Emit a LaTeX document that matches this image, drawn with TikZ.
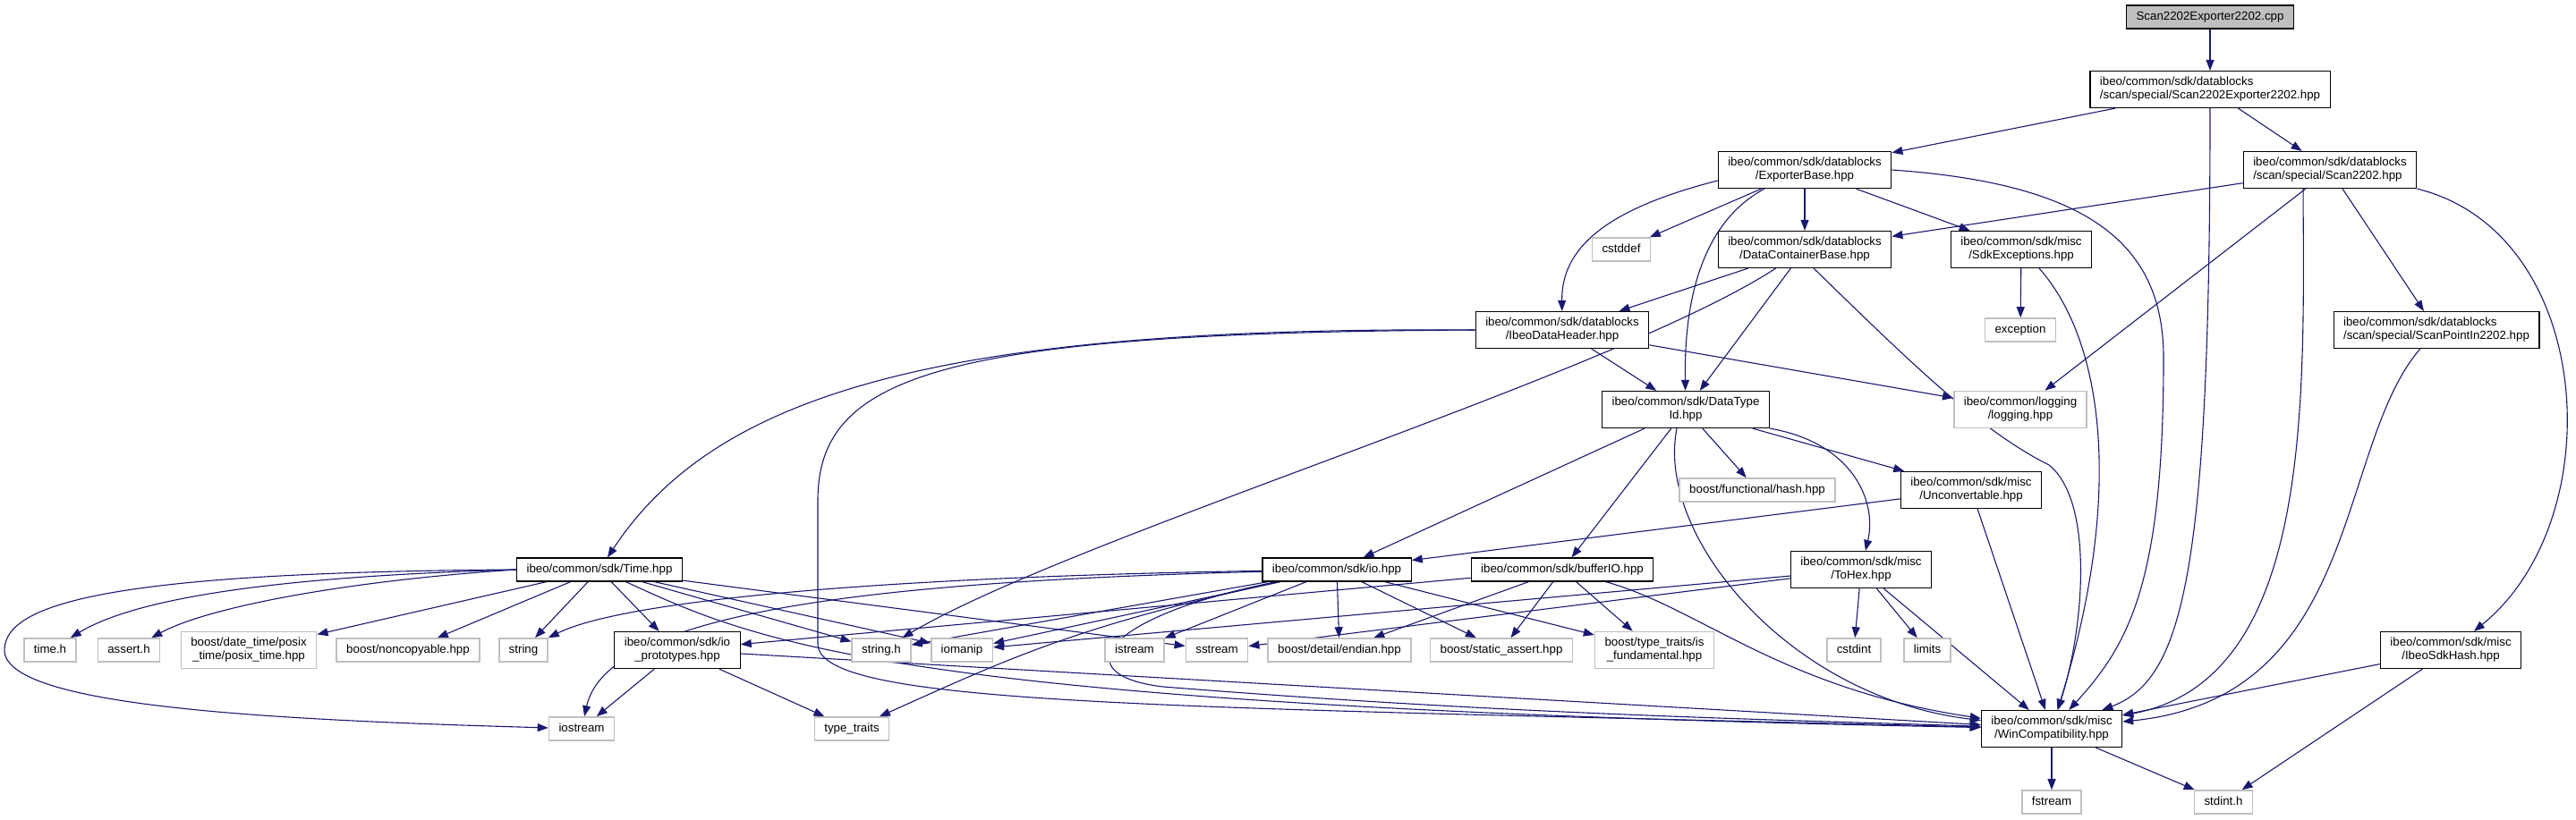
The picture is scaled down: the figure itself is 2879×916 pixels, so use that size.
\documentclass[tikz,border=0pt]{standalone}
\usepackage{fontspec}
\setmainfont{Liberation Sans}
\usetikzlibrary{arrows.meta,backgrounds}

\definecolor{edgeblue}{HTML}{191970}
\definecolor{extgray}{HTML}{BFBFBF}
\newcommand\dotfont{\fontsize{13.3}{15}\selectfont}

\tikzset{% doxygen include graph
  hdr/.style ={draw=black, line width=1.2pt, fill=white, inner xsep=11pt, inner ysep=0pt, font=\dotfont},
  ext/.style ={hdr, draw=extgray, line width=1.6pt},
  root/.style={hdr, fill=extgray},
  one/.style ={minimum height=26pt, text height=9.6pt, text depth=2.8pt},
  two/.style ={minimum height=41pt, align=center},
  twol/.style={minimum height=41pt, align=left},
  dep/.style ={draw=edgeblue, line width=1.1pt, -{Triangle[length=12pt,width=9pt]}},
}

\begin{document}
\begin{tikzpicture}[x=1pt, y=-1pt]
  \useasboundingbox (0, 0) rectangle (2879, 916);
  \node[root, one] (cpp) at (2470, 19) {Scan2202Exporter2202.cpp};
  \node[hdr, twol] (sx) at (2470, 100) {ibeo/common/sdk/datablocks\\/scan/special/Scan2202Exporter2202.hpp};
  \node[hdr, two] (eb) at (2017, 190) {ibeo/common/sdk/datablocks\\/ExporterBase.hpp};
  \node[hdr, twol] (sc) at (2604, 190) {ibeo/common/sdk/datablocks\\/scan/special/Scan2202.hpp};
  \node[ext, one] (cstddef) at (1812, 279) {cstddef};
  \node[hdr, two] (dcb) at (2017, 279) {ibeo/common/sdk/datablocks\\/DataContainerBase.hpp};
  \node[hdr, two] (sdkex) at (2259, 279) {ibeo/common/sdk/misc\\/SdkExceptions.hpp};
  \node[hdr, two] (idh) at (1746, 369) {ibeo/common/sdk/datablocks\\/IbeoDataHeader.hpp};
  \node[ext, one] (exc) at (2258, 369) {exception};
  \node[hdr, twol] (spi) at (2723, 369) {ibeo/common/sdk/datablocks\\/scan/special/ScanPointIn2202.hpp};
  \node[hdr, two] (dti) at (1884, 458) {ibeo/common/sdk/DataType\\Id.hpp};
  \node[ext, two] (logg) at (2258, 458) {ibeo/common/logging\\/logging.hpp};
  \node[ext, one] (hash) at (1964, 548) {boost/functional/hash.hpp};
  \node[hdr, two] (unconv) at (2203, 548) {ibeo/common/sdk/misc\\/Unconvertable.hpp};
  \node[hdr, one] (time) at (670, 637) {ibeo/common/sdk/Time.hpp};
  \node[hdr, one] (io) at (1494, 637) {ibeo/common/sdk/io.hpp};
  \node[hdr, one] (bufio) at (1746, 637) {ibeo/common/sdk/bufferIO.hpp};
  \node[hdr, two] (tohex) at (2080, 637) {ibeo/common/sdk/misc\\/ToHex.hpp};
  \node[ext, one] (timeh) at (56, 727) {time.h};
  \node[ext, one] (asserth) at (144, 727) {assert.h};
  \node[ext, two] (posix) at (278, 727) {boost/date\_time/posix\\\_time/posix\_time.hpp};
  \node[ext, one] (noncopy) at (456, 727) {boost/noncopyable.hpp};
  \node[ext, one] (str) at (585, 727) {string};
  \node[hdr, two] (iop) at (757, 727) {ibeo/common/sdk/io\\\_prototypes.hpp};
  \node[ext, one] (strh) at (985, 727) {string.h};
  \node[ext, one] (iomanip) at (1075, 727) {iomanip};
  \node[ext, one] (istream) at (1268, 727) {istream};
  \node[ext, one] (sstream) at (1360, 727) {sstream};
  \node[ext, one] (endian) at (1497, 727) {boost/detail/endian.hpp};
  \node[ext, one] (sassert) at (1678, 727) {boost/static\_assert.hpp};
  \node[ext, two] (isfund) at (1849, 727) {boost/type\_traits/is\\\_fundamental.hpp};
  \node[ext, one] (cstdint) at (2072, 727) {cstdint};
  \node[ext, one] (limits) at (2154, 727) {limits};
  \node[hdr, two] (sdkhash) at (2739, 727) {ibeo/common/sdk/misc\\/IbeoSdkHash.hpp};
  \node[ext, one] (iostream) at (650, 815) {iostream};
  \node[ext, one] (ttraits) at (952, 815) {type\_traits};
  \node[hdr, two] (win) at (2293, 815) {ibeo/common/sdk/misc\\/WinCompatibility.hpp};
  \node[ext, one] (fstream) at (2293, 897) {fstream};
  \node[ext, one] (stdinth) at (2485, 897) {stdint.h};

  \begin{scope}[on background layer]
  \draw[dep] (cpp) -- (sx);
  \draw[dep] (sx) -- (eb);
  \draw[dep] (sx) -- (sc);
  \draw[dep] (sx.south) .. controls (2470, 640) and (2440, 760) .. (win);
  % ExporterBase
  \draw[dep] (eb) -- (cstddef);
  \draw[dep] ([yshift=-12pt]eb.west) .. controls (1790, 235) and (1745, 280) .. (idh);
  \draw[dep] ([xshift=-45pt]eb.south) .. controls (1900, 250) and (1882, 340) .. (dti);
  \draw[dep] (eb) -- (dcb);
  \draw[dep] (eb) -- (sdkex);
  \draw[dep] (eb.east) .. controls (2330, 205) and (2418, 270) .. (2418, 400)
    .. controls (2418, 650) and (2380, 720) .. (win);
  % Scan2202
  \draw[dep] (sc) -- (dcb);
  \draw[dep] (sc) -- (logg);
  \draw[dep] ([xshift=-30pt]sc.south) .. controls (2575, 450) and (2585, 760) .. (win);
  \draw[dep] (sc) -- (spi);
  \draw[dep] (sc.south east) .. controls (2900, 260) and (2920, 580) .. (sdkhash);
  % DataContainerBase
  \draw[dep] (dcb) -- (idh);
  \draw[dep] (dcb) -- (dti);
  \draw[dep] (dcb) .. controls (1800, 420) and (1200, 600) .. (strh);
  \draw[dep] ([xshift=10pt]dcb.south) .. controls (2130, 400) and (2210, 480) .. (2290, 520)
    .. controls (2340, 560) and (2330, 700) .. (win);
  \draw[dep] (sdkex) -- (exc);
  \draw[dep] ([xshift=20pt]sdkex.south) .. controls (2350, 380) and (2375, 550) .. (win);
  % IbeoDataHeader
  \draw[dep] (idh.west) .. controls (1050, 365) and (800, 440) .. (time);
  \draw[dep] (idh.west) .. controls (1050, 372) and (914, 420) .. (914, 560) -- (914, 720)
    .. controls (914, 790) and (1300, 790) .. (win);
  \draw[dep] (idh) -- (dti);
  \draw[dep] (idh) -- (logg);
  % DataTypeId
  \draw[dep] (dti) -- (io);
  \draw[dep] (dti) -- (bufio);
  \draw[dep] ([xshift=-10pt]dti.south) .. controls (1850, 600) and (2000, 780) .. (win);
  \draw[dep] (dti) -- (hash);
  \draw[dep] (dti) -- (unconv);
  \draw[dep] (dti.south east) .. controls (2070, 495) and (2098, 560) .. (tohex);
  \draw[dep] (unconv) -- (io);
  \draw[dep] (unconv) -- (win);
  % ToHex
  \draw[dep] (tohex) -- (iomanip);
  \draw[dep] (tohex) -- (sstream);
  \draw[dep] (tohex) -- (cstdint);
  \draw[dep] (tohex) -- (limits);
  \draw[dep] (tohex) -- (win);
  \draw[dep] (spi) .. controls (2610, 500) and (2640, 780) .. (win);
  \draw[dep] (sdkhash) -- (win);
  \draw[dep] (sdkhash) -- (stdinth);
  \draw[dep] (win) -- (fstream);
  \draw[dep] (win) -- (stdinth);
  % Time
  \draw[dep] (time.west) .. controls (150, 640) and (5, 670) .. (5, 727)
    .. controls (5, 790) and (300, 805) .. (iostream);
  \draw[dep] (time.west) .. controls (300, 645) and (150, 670) .. (timeh);
  \draw[dep] (time.west) .. controls (380, 650) and (230, 680) .. (asserth);
  \draw[dep] (time) -- (posix);
  \draw[dep] (time) -- (noncopy);
  \draw[dep] (time) -- (str);
  \draw[dep] (time) -- (iop);
  \draw[dep] (time) -- (strh);
  \draw[dep] (time) -- (iomanip);
  \draw[dep] (time) -- (sstream);
  \draw[dep] (time) .. controls (850, 720) and (1000, 790) .. (win);
  \draw[dep] (iop) -- (iostream);
  \draw[dep] (iop) -- (ttraits);
  \draw[dep] (iop) -- (win);
  % io
  \draw[dep] (io) .. controls (1000, 645) and (700, 670) .. (str);
  \draw[dep] (io) .. controls (1000, 650) and (680, 680) .. (iostream);
  \draw[dep] (io) -- (strh);
  \draw[dep] (io) -- (iomanip);
  \draw[dep] (io) .. controls (1200, 700) and (1120, 740) .. (ttraits);
  \draw[dep] (io) -- (istream);
  \draw[dep] (io) -- (endian);
  \draw[dep] (io) -- (sassert);
  \draw[dep] (io) -- (isfund);
  \draw[dep] (io) .. controls (1230, 690) and (1190, 755) .. (1300, 768)
    .. controls (1700, 800) and (2000, 805) .. (win);
  % bufferIO
  \draw[dep] (bufio) -- (iop);
  \draw[dep] (bufio) -- (endian);
  \draw[dep] (bufio) -- (sassert);
  \draw[dep] (bufio) -- (isfund);
  \draw[dep] (bufio) .. controls (1900, 680) and (1990, 770) .. (win);
  \end{scope}
\end{tikzpicture}
\end{document}
